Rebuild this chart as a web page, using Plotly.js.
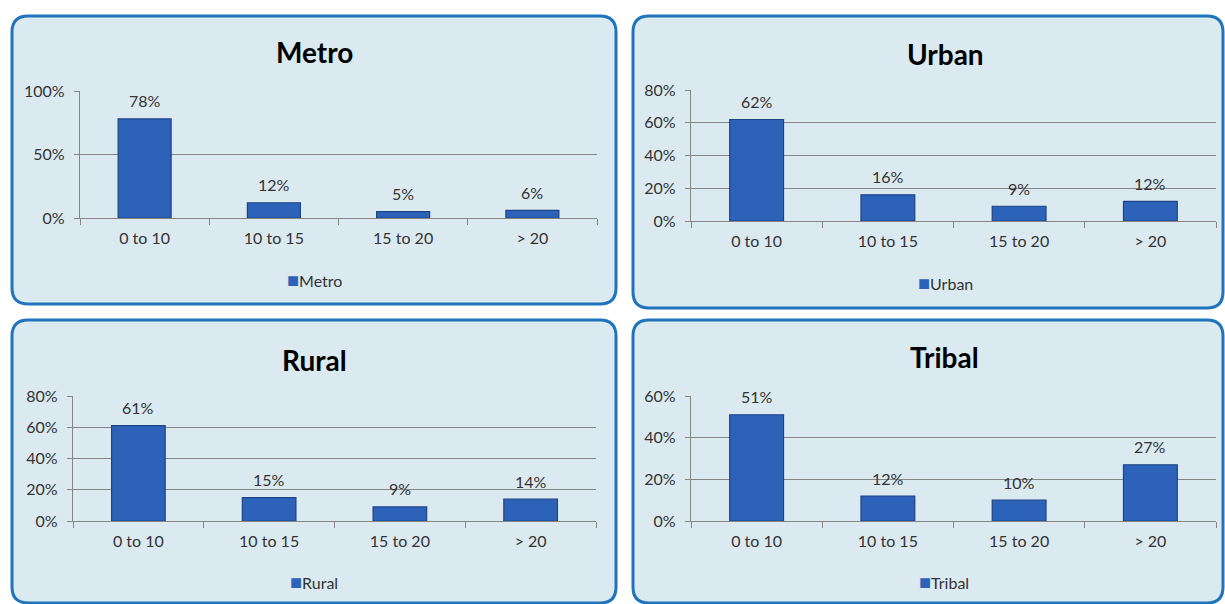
<!DOCTYPE html>
<html>
<head>
<meta charset="utf-8">
<script src="https://cdn.plot.ly/plotly-3.0.1.min.js"></script>
<style>html,body{margin:0;padding:0;background:#fff;}#chart{width:1225px;height:604px;}</style>
</head>
<body>
<div id="chart"></div>
<script>
const categories = ["0 to 10", "10 to 15", "15 to 20", "> 20"];
const metroValues = [0.78, 0.12, 0.05, 0.06];
const urbanValues = [0.62, 0.16, 0.09, 0.12];
const ruralValues = [0.61, 0.15, 0.09, 0.14];
const tribalValues = [0.51, 0.12, 0.10, 0.27];
const panelNames = ["Metro", "Urban", "Rural", "Tribal"];
const yMax = [1.0, 0.8, 0.8, 0.6];
const yStep = [0.5, 0.2, 0.2, 0.2];

const W = 1225, H = 604;
const FONT = "Lato, 'Open Sans', sans-serif";
const BAR = "#2c63b8";
const px = x => x / W;
const py = y => 1 - y / H;

function roundRect(x0, y0, x1, y1, r) {
  const f = (x, y) => px(x).toFixed(5) + "," + py(y).toFixed(5);
  return "M" + f(x0 + r, y0) + " L" + f(x1 - r, y0) + " Q" + f(x1, y0) + " " + f(x1, y0 + r) +
    " L" + f(x1, y1 - r) + " Q" + f(x1, y1) + " " + f(x1 - r, y1) +
    " L" + f(x0 + r, y1) + " Q" + f(x0, y1) + " " + f(x0, y1 - r) +
    " L" + f(x0, y0 + r) + " Q" + f(x0, y0) + " " + f(x0 + r, y0) + " Z";
}

// panel layout (pixels)
const panels = [
  {box: [12, 16, 616, 304], plot: [80, 91, 597, 218], title: [314, 52], legend: [314, 279]},
  {box: [633, 16, 1223, 308], plot: [691, 90, 1216, 221], title: [945, 54], legend: [945, 282]},
  {box: [12, 320, 616, 603], plot: [73, 396, 596, 521], title: [314, 360], legend: [314, 581]},
  {box: [633, 320, 1223, 603], plot: [691, 396, 1216, 521], title: [944, 357], legend: [944, 581]}
];
const seriesValues = [metroValues, urbanValues, ruralValues, tribalValues];

const data = [];
const layout = {
  width: W, height: H,
  margin: {l: 0, r: 0, t: 0, b: 0},
  paper_bgcolor: "#ffffff",
  plot_bgcolor: "rgba(0,0,0,0)",
  font: {family: FONT, size: 16, color: "#333"},
  bargap: 0.59,
  showlegend: false,
  shapes: [],
  annotations: []
};

panels.forEach((p, i) => {
  const n = i + 1;
  const sfx = n === 1 ? "" : String(n);
  data.push({
    type: "bar",
    x: categories,
    y: seriesValues[i],
    name: panelNames[i],
    xaxis: "x" + sfx,
    yaxis: "y" + sfx,
    marker: {color: BAR, line: {color: "#1d4486", width: 1.2}},
    hoverinfo: "skip"
  });
  layout["xaxis" + sfx] = {
    domain: [px(p.plot[0]), px(p.plot[2])],
    anchor: "y" + sfx,
    type: "category",
    showline: true, linecolor: "#858585", linewidth: 1.2,
    ticks: "outside", tickson: "boundaries", ticklen: 6, tickcolor: "#858585",
    ticklabelstandoff: 6,
    showgrid: false,
    tickfont: {family: FONT, size: 16, color: "#333"},
    fixedrange: true
  };
  layout["yaxis" + sfx] = {
    domain: [py(p.plot[3]), py(p.plot[1])],
    anchor: "x" + sfx,
    range: [0, yMax[i]],
    dtick: yStep[i], tick0: 0,
    tickformat: ".0%",
    showline: true, linecolor: "#858585", linewidth: 1.2,
    ticks: "outside", ticklen: 5, tickcolor: "#858585",
    ticklabelstandoff: 6,
    showgrid: true, gridcolor: "#858585", gridwidth: 1.2,
    zeroline: false,
    tickfont: {family: FONT, size: 16, color: "#333"},
    fixedrange: true
  };
  layout.shapes.push({
    type: "path", xref: "paper", yref: "paper", layer: "below",
    path: roundRect(p.box[0], p.box[1], p.box[2], p.box[3], 16),
    fillcolor: "#dbeaf1",
    line: {color: "#1f74bb", width: 3}
  });
  layout.annotations.push({
    xref: "paper", yref: "paper",
    x: px(p.title[0]), y: py(p.title[1]),
    xanchor: "center", yanchor: "middle",
    text: "<b>" + panelNames[i] + "</b>",
    showarrow: false,
    font: {family: FONT, size: 28, color: "#000"}
  });
  // legend
  layout.annotations.push({
    xref: "paper", yref: "paper",
    x: px(p.legend[0]), y: py(p.legend[1]),
    xanchor: "center", yanchor: "middle",
    text: "<span style='color:" + BAR + ";font-size:20px'>■</span>" + panelNames[i],
    showarrow: false,
    font: {family: FONT, size: 16, color: "#333"}
  });
  seriesValues[i].forEach((v, j) => {
    layout.annotations.push({
      xref: "x" + sfx, yref: "y" + sfx,
      x: categories[j], y: v,
      yshift: 18, yanchor: "middle",
      text: Math.round(v * 100) + "%",
      showarrow: false,
      font: {family: FONT, size: 16, color: "#333"}
    });
  });
});

Plotly.newPlot("chart", data, layout, {displayModeBar: false, staticPlot: true});
</script>
</body>
</html>
